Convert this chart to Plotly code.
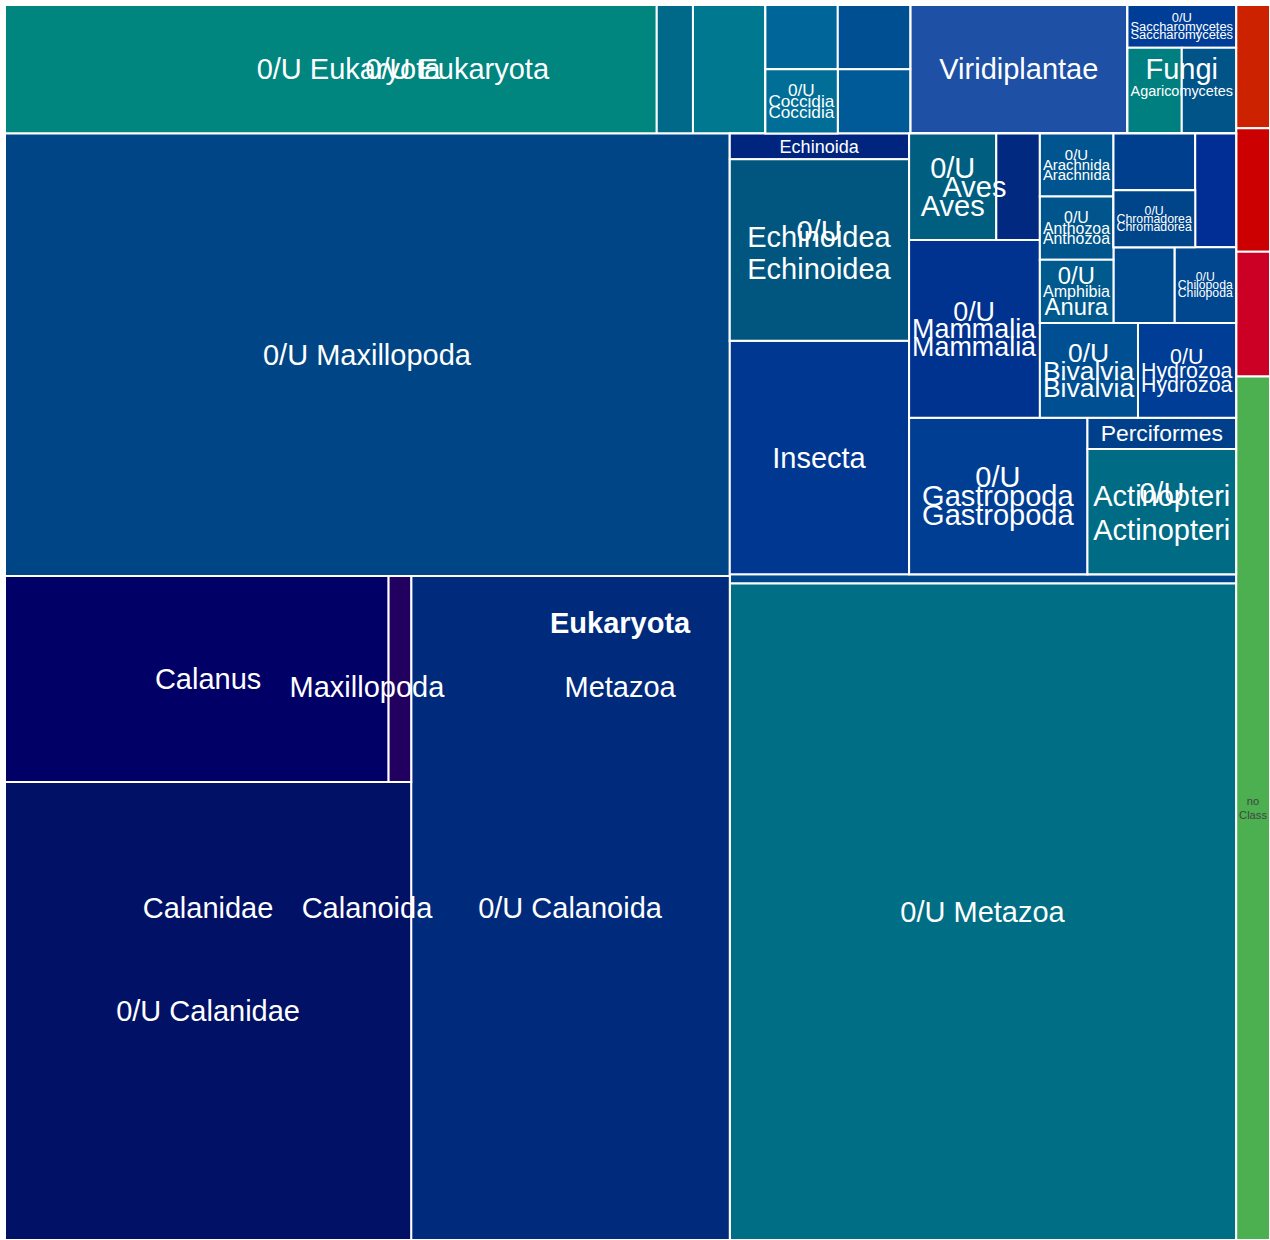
import plotly.graph_objects as go

# taxonomy tree (parents listed before their children, sort=False keeps this order)
ids = [
    "Eukaryota", "dom-x1", "dom-x2", "dom-x3", "no Class",
    "euk-0u", "euk-0u-0u", "euk-0u-0u-leaf", "euk-0u-0u-x1",
    "euk-0u-p2", "euk-0u-p2-x1", "euk-0u-p2-c", "euk-0u-p2-c-x1", "Coccidia", "0/U Coccidia",
    "euk-0u-p2-c-x2", "euk-0u-p2-c-x3",
    "Viridiplantae",
    "Fungi", "Saccharomycetes", "0/U Saccharomycetes", "Agaricomycetes", "agar-x1", "agar-x2",
    "Metazoa",
    "Maxillopoda", "0/U Maxillopoda", "Calanoida", "Calanidae", "Calanus", "calanus-x1", "calanus-x2",
    "0/U Calanidae", "0/U Calanoida",
    "met-g1", "Echinoidea", "Echinoida", "0/U Echinoidea", "Insecta",
    "met-g2", "Aves", "0/U Aves", "aves-x1", "Mammalia", "0/U Mammalia",
    "met-g3", "Arachnida", "0/U Arachnida", "Anthozoa", "0/U Anthozoa", "Amphibia", "0/U Anura",
    "met-g4", "g4-x1", "Chromadorea", "0/U Chromadorea", "g4-x2",
    "g3-x1", "Chilopoda", "0/U Chilopoda",
    "Bivalvia", "0/U Bivalvia", "Hydrozoa", "0/U Hydrozoa",
    "Gastropoda", "0/U Gastropoda", "Actinopteri", "Perciformes", "0/U Actinopteri",
    "met-x1", "0/U Metazoa",
]
parents = [
    "", "", "", "", "",
    "Eukaryota", "euk-0u", "euk-0u-0u", "euk-0u-0u",
    "euk-0u", "euk-0u-p2", "euk-0u-p2", "euk-0u-p2-c", "euk-0u-p2-c", "Coccidia",
    "euk-0u-p2-c", "euk-0u-p2-c",
    "Eukaryota",
    "Eukaryota", "Fungi", "Saccharomycetes", "Fungi", "Agaricomycetes", "Agaricomycetes",
    "Eukaryota",
    "Metazoa", "Maxillopoda", "Maxillopoda", "Calanoida", "Calanidae", "Calanus", "Calanus",
    "Calanidae", "Calanoida",
    "Metazoa", "met-g1", "Echinoidea", "Echinoidea", "met-g1",
    "met-g1", "met-g2", "Aves", "Aves", "met-g2", "Mammalia",
    "met-g2", "met-g3", "Arachnida", "met-g3", "Anthozoa", "met-g3", "Amphibia",
    "met-g3", "met-g4", "met-g4", "Chromadorea", "met-g4",
    "met-g3", "met-g3", "Chilopoda",
    "met-g2", "Bivalvia", "met-g2", "Hydrozoa",
    "met-g1", "Gastropoda", "met-g1", "Actinopteri", "Actinopteri",
    "Metazoa", "Metazoa",
]
names = [
    "Eukaryota", "", "", "", "no Class",
    "0/U Eukaryota", "0/U Eukaryota", "0/U Eukaryota", "",
    "", "", "", "", "Coccidia", "0/U Coccidia",
    "", "",
    "Viridiplantae",
    "Fungi", "Saccharomycetes", "0/U Saccharomycetes", "Agaricomycetes", "", "",
    "Metazoa",
    "Maxillopoda", "0/U Maxillopoda", "Calanoida", "Calanidae", "Calanus", "", "",
    "0/U Calanidae", "0/U Calanoida",
    "", "Echinoidea", "Echinoida", "0/U Echinoidea", "Insecta",
    "", "Aves", "0/U Aves", "", "Mammalia", "0/U Mammalia",
    "", "Arachnida", "0/U Arachnida", "Anthozoa", "0/U Anthozoa", "Amphibia", "0/U Anura",
    "", "", "Chromadorea", "0/U Chromadorea", "",
    "", "Chilopoda", "0/U Chilopoda",
    "Bivalvia", "0/U Bivalvia", "Hydrozoa", "0/U Hydrozoa",
    "Gastropoda", "0/U Gastropoda", "Actinopteri", "Perciformes", "0/U Actinopteri",
    "", "0/U Metazoa",
]
# leaf counts (parents 0)
counts = [
    0, 0.9, 0.9, 0.91, 6.3,
    0, 0, 18, 1,
    0, 2, 0, 1, 0, 1,
    1, 1,
    6,
    0, 0, 1, 0, 1, 1,
    0,
    0, 69, 0, 0, 0, 17, 1,
    40, 45.5,
    0, 0, 1, 7, 9,
    0, 0, 2, 1, 0, 5,
    0, 0, 1, 0, 1, 0, 1,
    0, 1, 0, 1, 1,
    1, 0, 1,
    0, 2, 0, 2,
    0, 6, 0, 1, 4,
    1, 71.5,
]

leaf_colors = {
    "dom-x1": "#cc2200", "dom-x2": "#cc0000", "dom-x3": "#cc0025", "no Class": "#4caf50",
    "euk-0u-0u-leaf": "#00857f", "euk-0u-0u-x1": "#00698a", "euk-0u-p2-x1": "#007890",
    "euk-0u-p2-c-x1": "#006699", "0/U Coccidia": "#006e96", "euk-0u-p2-c-x2": "#004f93",
    "euk-0u-p2-c-x3": "#005a98", "Viridiplantae": "#1e50a5", "0/U Saccharomycetes": "#003d96",
    "agar-x1": "#007f80", "agar-x2": "#005488",
    "0/U Maxillopoda": "#004585", "calanus-x1": "#000066", "calanus-x2": "#220060",
    "0/U Calanidae": "#001166", "0/U Calanoida": "#002a7c",
    "Echinoida": "#00257f", "0/U Echinoidea": "#00567f", "Insecta": "#003791",
    "0/U Aves": "#005f80", "aves-x1": "#00297f", "0/U Mammalia": "#00328f",
    "0/U Arachnida": "#00548f", "0/U Anthozoa": "#00558d", "0/U Anura": "#005a8e",
    "g4-x1": "#003f8e", "0/U Chromadorea": "#00458a", "g4-x2": "#002e94",
    "g3-x1": "#004b90", "0/U Chilopoda": "#00478f",
    "0/U Bivalvia": "#004f92", "0/U Hydrozoa": "#003d96", "0/U Gastropoda": "#003e93",
    "Perciformes": "#00408a", "0/U Actinopteri": "#006b85",
    "met-x1": "#00468a", "0/U Metazoa": "#006e85",
}

font_family = "Liberation Sans, Arial, sans-serif"

children = {}
for i, p in zip(ids, parents):
    children.setdefault(p, []).append(i)
name_of = dict(zip(ids, names))
count_of = dict(zip(ids, counts))
parent_of = dict(zip(ids, parents))

depth = {}
for i, p in zip(ids, parents):
    depth[i] = 1 if p == "" else depth[p] + 1

total = {}
for i in reversed(ids):
    total[i] = count_of[i] + sum(total[c] for c in children.get(i, []))


def leaf_text(i):
    n = name_of[i]
    if i in children or n == "":
        return ""
    if parent_of[i] and name_of[parent_of[i]] == n:
        return ""
    if count_of[i] < 10:
        n = n.replace(" ", "<br>", 1)
    return n


fig = go.Figure()

# base treemap: coloured leaves with their own labels
fig.add_trace(go.Treemap(
    ids=ids, parents=parents, labels=[n or " " for n in names], values=counts,
    branchvalues="remainder", sort=False,
    text=[leaf_text(i) for i in ids], textinfo="text",
    textposition="middle center",
    textfont=dict(family=font_family, size=29),
    marker=dict(colors=[leaf_colors.get(i, "#1f5fa0") for i in ids],
                line=dict(color="white", width=2),
                pad=dict(t=0, l=0, r=0, b=0)),
    tiling=dict(pad=0, packing="squarify"),
    pathbar=dict(visible=False),
    hoverinfo="label+value",
))

# group labels: same tree cut at each depth, drawn centred over the leaves
max_depth = max(depth[i] for i in ids if i in children)
for d in range(max_depth, 0, -1):
    sel = [i for i in ids if depth[i] <= d]
    vals, txt = [], []
    for i in sel:
        if depth[i] == d:
            vals.append(total[i])
        else:
            vals.append(count_of[i])
        if depth[i] == d and i in children and name_of[i]:
            t = name_of[i]
            txt.append("<b>" + t + "</b>" if d == 1 else t)
        else:
            txt.append("")
    if not any(txt):
        continue
    fig.add_trace(go.Treemap(
        ids=sel, parents=[parent_of[i] for i in sel], labels=[name_of[i] or " " for i in sel],
        values=vals, branchvalues="remainder", sort=False,
        text=txt, textinfo="text", textposition="middle center",
        textfont=dict(family=font_family, size=29, color="white"),
        marker=dict(colors=["rgba(0,0,0,0)"] * len(sel), line=dict(width=0),
                    pad=dict(t=0, l=0, r=0, b=0)),
        tiling=dict(pad=0, packing="squarify"),
        pathbar=dict(visible=False),
        hoverinfo="skip",
    ))

fig.update_layout(
    width=1270, height=1240,
    margin=dict(l=5, r=0, t=5, b=0),
    paper_bgcolor="white",
    showlegend=False,
)

# page without the default body margin so the figure fills the window
fig.write_html("out.html", config={"displayModeBar": False},
               post_script="document.body.style.margin='0';document.body.style.overflow='hidden';")
